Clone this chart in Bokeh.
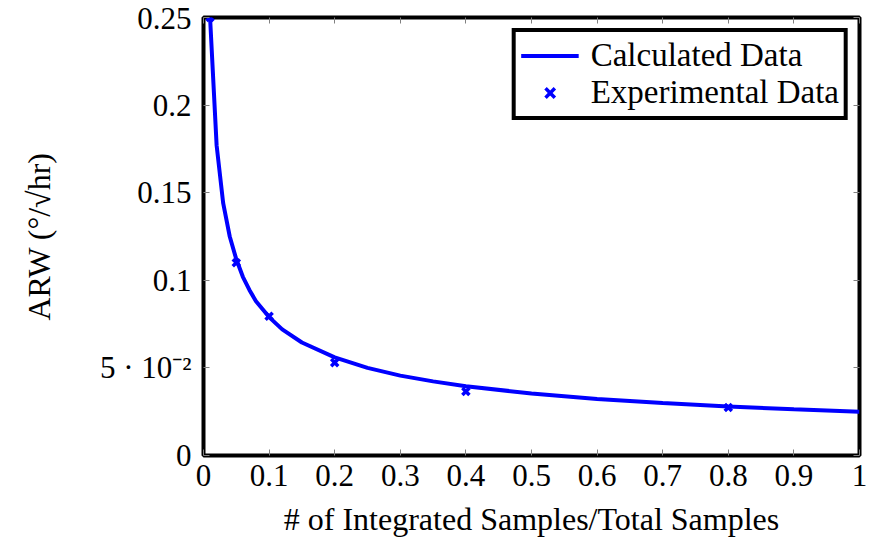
from bokeh.plotting import figure
from bokeh.models import Range1d, LinearAxis, FixedTicker, Legend, LegendItem
from bokeh.embed import file_html
from bokeh.resources import INLINE

# Calculated curve
calc_x = [0.01, 0.02, 0.03, 0.04, 0.05, 0.06, 0.07, 0.08, 0.10, 0.12, 0.15,
          0.20, 0.25, 0.30, 0.35, 0.40, 0.50, 0.60, 0.70, 0.80, 0.90, 1.00]
calc_y = [0.250, 0.177, 0.144, 0.125, 0.112, 0.102, 0.0945, 0.088, 0.079, 0.072, 0.0645,
          0.056, 0.050, 0.0456, 0.0423, 0.0395, 0.0354, 0.0323, 0.0299, 0.028, 0.0264, 0.025]

# Experimental points
exp_x = [0.01, 0.05, 0.10, 0.20, 0.40, 0.80]
exp_y = [0.250, 0.110, 0.0795, 0.053, 0.0365, 0.0274]

x_ticks = [0, 0.1, 0.2, 0.3, 0.4, 0.5, 0.6, 0.7, 0.8, 0.9, 1.0]
x_tick_labels = ["0", "0.1", "0.2", "0.3", "0.4", "0.5", "0.6", "0.7", "0.8", "0.9", "1"]
y_ticks = [0, 0.05, 0.10, 0.15, 0.20, 0.25]
y_tick_labels = ["0", "5 · 10⁻²", "0.1", "0.15", "0.2", "0.25"]

FONT = "Liberation Serif"
TICK_FS = "31px"
LABEL_FS = "32px"
LEG_FS = "33px"
BLUE = "#0000ff"

p = figure(width=869, height=546, output_backend="svg", toolbar_location=None,
           x_range=Range1d(0, 1), y_range=Range1d(0, 0.25),
           min_border_left=203, min_border_right=10, min_border_top=17, min_border_bottom=91)
p.background_fill_color = "white"
p.border_fill_color = "white"
p.grid.visible = False
p.outline_line_color = "black"
p.outline_line_width = 4
p.outline_line_alpha = 1

def style_axis(ax, ticks, labels, show_labels=True):
    ax.ticker = FixedTicker(ticks=ticks)
    ax.major_label_overrides = {t: l for t, l in zip(ticks, labels)}
    ax.axis_line_color = None
    ax.major_tick_in = 6
    ax.major_tick_out = 0
    ax.major_tick_line_color = "#808080"
    ax.major_tick_line_width = 1
    ax.minor_tick_line_color = None
    ax.major_label_text_font = FONT
    ax.major_label_text_font_size = TICK_FS
    ax.major_label_text_color = "black"
    if not show_labels:
        ax.major_label_text_alpha = 0
        ax.major_label_text_font_size = "1px"
        ax.major_label_standoff = 0

style_axis(p.xaxis[0], x_ticks, x_tick_labels)
style_axis(p.yaxis[0], y_ticks, y_tick_labels)
p.xaxis[0].major_label_standoff = 9
p.yaxis[0].major_label_standoff = 12

p.xaxis[0].axis_label = "# of Integrated Samples/Total Samples"
p.yaxis[0].axis_label = "ARW (°/√hr)"
for ax in (p.xaxis[0], p.yaxis[0]):
    ax.axis_label_text_font = FONT
    ax.axis_label_text_font_size = LABEL_FS
    ax.axis_label_text_font_style = "normal"
    ax.axis_label_text_color = "black"
p.xaxis[0].axis_label_standoff = 12
p.yaxis[0].axis_label_standoff = 40

top_ax = LinearAxis()
style_axis(top_ax, x_ticks, x_tick_labels, show_labels=False)
right_ax = LinearAxis()
style_axis(right_ax, y_ticks, y_tick_labels, show_labels=False)
p.add_layout(top_ax, "above")
p.add_layout(right_ax, "right")

r_line = p.line(calc_x, calc_y, line_color=BLUE, line_width=4)
r_pts = p.scatter(exp_x, exp_y, marker="x", size=10, line_color=BLUE, line_width=3.5)

legend = Legend(items=[LegendItem(label="Calculated Data", renderers=[r_line]),
                       LegendItem(label="Experimental Data", renderers=[r_pts])],
                location="top_right")
legend.label_text_font = FONT
legend.label_text_font_size = LEG_FS
legend.label_text_color = "black"
legend.border_line_color = "black"
legend.border_line_width = 4
legend.border_line_alpha = 1
legend.margin = 11
legend.padding = 5
legend.spacing = 0
legend.glyph_width = 58
legend.label_standoff = 12
legend.label_height = 33
legend.glyph_height = 33
p.add_layout(legend)

open("out.html", "w").write(file_html(p, INLINE))
